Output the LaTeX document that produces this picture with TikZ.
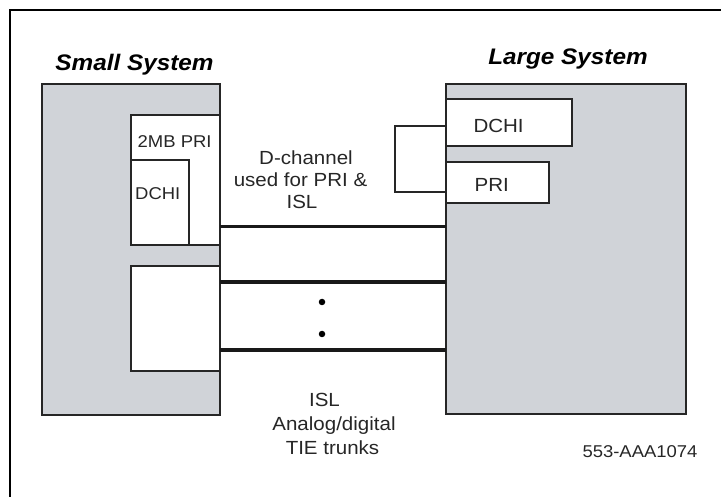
\documentclass[tikz,border=0pt]{standalone}
\usepackage{fontspec}
\setmainfont[FakeStretch=1.08]{Liberation Sans}
\definecolor{sysgray}{RGB}{208,211,216}
\tikzset{
  sysbox/.style={draw=black!85, line width=1.6pt, fill=sysgray, anchor=north west, inner sep=0pt, outer sep=0pt},
  cardbox/.style={draw=black!85, line width=1.6pt, fill=white, anchor=north west, inner sep=0pt, outer sep=0pt},
  title/.style={font=\fontsize{22.5}{27}\selectfont\bfseries\itshape, inner sep=0pt},
  lbl/.style={font=\fontsize{19}{23}\selectfont, inner sep=0pt, text=black!85},
  slbl/.style={font=\fontsize{17.1}{21}\selectfont, inner sep=0pt, text=black!85},
  trunk/.style={line width=3.6pt, draw=black!90},
  thin/.style={line width=1.6pt, draw=black!85},
  dot/.style={circle, fill=black, inner sep=0pt, minimum size=6.5pt}
}
\begin{document}
\begin{tikzpicture}[x=1pt,y=-1pt]
\useasboundingbox (0,0) rectangle (721,497);
% frame
\coordinate (fbl) at (10,497);
\coordinate (ftl) at (10,10);
\coordinate (ftr) at (721,10);
\draw[line width=2.6pt] (fbl) -- (ftl) -- (ftr);
% titles
\node[title, anchor=base] (tsmall) at (134.5,71) {Small System};
\node[title, anchor=base] (tlarge) at (568,65) {Large System};
% small system
\node[sysbox, minimum width=178pt, minimum height=331pt] (small) at (42,84) {};
\node[cardbox, minimum width=89pt, minimum height=130pt] (pri2) at (131,115) {};
\node[cardbox, minimum width=58pt, minimum height=85pt] (sdchi) at (131,160) {};
\node[cardbox, minimum width=89pt, minimum height=105pt] (lowcard) at (131,266) {};
\node[slbl, anchor=base west] (tpri2) at (137.5,147.5) {2MB PRI};
\node[slbl, anchor=base west] (tsdchi) at (135,199.5) {DCHI};
% large system
\node[sysbox, minimum width=240pt, minimum height=330pt] (large) at (446,84) {};
\node[cardbox, minimum width=126pt, minimum height=47pt] (ldchi) at (446,99) {};
\node[cardbox, minimum width=103pt, minimum height=41pt] (lpri) at (446,162) {};
\node[lbl, anchor=base west] (tldchi) at (473.3,132.3) {DCHI};
\node[lbl, anchor=base west] (tlpri) at (474.5,191.7) {PRI};
% bracket between DCHI and PRI
\coordinate (b1) at (395,126);
\coordinate (b2) at (395,192);
\draw[thin] (ldchi.west |- b1) -- (b1) -- (b2) -- (lpri.west |- b2);
% trunks
\coordinate (y1) at (0,226.5);
\coordinate (y2) at (0,282);
\coordinate (y3) at (0,350);
\draw[trunk] (small.east |- y1) -- (large.west |- y1);
\draw[trunk] (small.east |- y2) -- (large.west |- y2);
\draw[trunk] (small.east |- y3) -- (large.west |- y3);
\node[dot] (d1) at (322,302) {};
\node[dot] (d2) at (322,334) {};
% labels
\node[lbl, anchor=base] (tdch1) at (306,165) {D-channel};
\node[lbl, anchor=base] (tdch2) at (300.5,186.7) {used for PRI \&};
\node[lbl, anchor=base] (tdch3) at (302,208.5) {ISL};
\node[lbl, anchor=base] (tisl) at (324.5,406.7) {ISL};
\node[lbl, anchor=base] (tana) at (334,430.7) {Analog/digital};
\node[lbl, anchor=base] (ttie) at (332.5,454) {TIE trunks};
\node[slbl, anchor=base] (tref) at (640,457.3) {553-AAA1074};
\end{tikzpicture}
\end{document}
